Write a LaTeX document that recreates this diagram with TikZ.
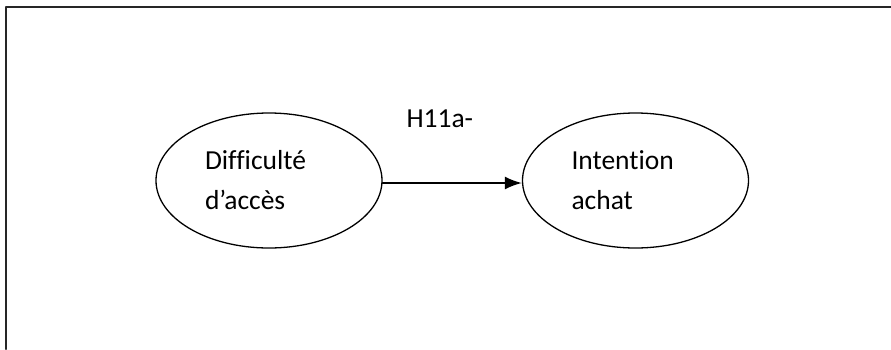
\documentclass[tikz,border=0pt]{standalone}
\usepackage{fontspec}
\setmainfont{Carlito}[Ligatures=NoCommon]
\usetikzlibrary{shapes.geometric,arrows.meta}

\begin{document}
\begin{tikzpicture}[x=1pt, y=-1pt, line cap=round, line join=round,
    construct/.style={ellipse, draw, line width=1.3pt, minimum width=226pt, minimum height=135pt,
      text width=128pt, align=left, font=\fontsize{27.5}{40}\selectfont},
    path/.style={line width=1.8pt, -{Latex[length=17pt,width=13pt]}}]
  \useasboundingbox (0,0) rectangle (891,349);

  % cadre
  \draw[line width=2.2pt, black!85] (6,349) -- (6,7) -- (891,7);

  \node[construct] (difficulte) at (269,180.5) {Difficulté\\d’accès};
  \node[construct] (intention) at (635.5,180.5) {Intention\\achat};

  \draw[path] ([yshift=-2.5pt]difficulte.east) -- ([yshift=-2.5pt]intention.west);
  \draw (403,127) node[anchor=base west, font=\fontsize{27.5}{40}\selectfont] (h11a) {H11a-};
\end{tikzpicture}
\end{document}
